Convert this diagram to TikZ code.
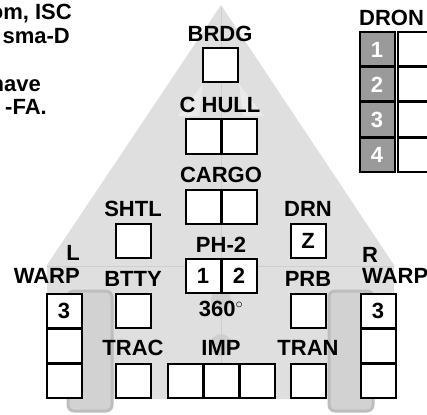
\documentclass[tikz,border=0pt]{standalone}
\usepackage{fontspec}
\setmainfont{Liberation Sans}
\newcommand\shipfont{\fontsize{22}{24}\selectfont\bfseries}
\definecolor{shipfill}{HTML}{DFDFDF}
\definecolor{shipline}{HTML}{CFCFCF}
\definecolor{shiplight}{HTML}{EBEBEB}
\definecolor{nacfill}{HTML}{D2D2D2}
\definecolor{nacline}{HTML}{BDBDBD}
\definecolor{dronegray}{HTML}{9A9A9A}
\tikzset{
  cell/.style={draw=black, line width=2pt, fill=white, minimum width=35pt, minimum height=34pt, inner sep=0pt, font=\shipfont},
  dcell/.style={cell, fill=dronegray, text=white},
  lbl/.style={font=\shipfont, inner sep=0pt, anchor=base},
  faint/.style={draw=shipline, line width=1pt},
  nacelle/.style={draw=nacline, line width=3pt, fill=nacfill, rounded corners=6pt},
}
\begin{document}
\begin{tikzpicture}[x=1pt,y=-1pt]
\useasboundingbox (0,0) rectangle (427,414);
\clip (0,0) rectangle (427,414);
% ship silhouette
\fill[shipfill] (221,5) -- (394,265) -- (394,399) -- (47,399) -- (47,265) -- cycle;
\fill[shiplight] (203,84) -- (178,116) -- (199,116) -- cycle;
\fill[shiplight] (239,84) -- (264,116) -- (243,116) -- cycle;
\draw[faint] (47,266) -- (394,266);
\draw[faint] (221,8) -- (221,399);
\fill[shipline] (221,300) circle (10pt);
\fill[shipline] (221,345) circle (11pt);
\draw[nacelle] (68,291) rectangle (112,411);
\draw[nacelle] (329,291) rectangle (373,411);
% top-left text
\node[lbl, anchor=base east] (t1) at (72,20) {om, ISC};
\node[lbl, anchor=base east] (t2) at (70,44) {sma-D};
\node[lbl, anchor=base east] (t3) at (41,92) {have};
\node[lbl, anchor=base east] (t4) at (47,114) {-FA.};
% bridge and hull
\node[lbl] (brdgL) at (220,42) {BRDG};
\node[cell] (brdg) at (220,65.5) {};
\node[lbl] (chullL) at (220,113) {C HULL};
\node[cell] (ch1) at (203,136.5) {};
\node[cell] (ch2) at (239,136.5) {};
\node[lbl] (cargoL) at (221,182) {CARGO};
\node[cell] (cg1) at (203,206.5) {};
\node[cell] (cg2) at (239,206.5) {};
\node[lbl] (phL) at (221,252) {PH-2};
\node[cell] (ph1) at (203,275.5) {1};
\node[cell] (ph2) at (239,275.5) {2};
\node[lbl] (deg) at (221,316) {360$^\circ$};
\node[lbl] (impL) at (221,355) {IMP};
\node[cell] (imp1) at (185,380.5) {};
\node[cell] (imp2) at (221,380.5) {};
\node[cell] (imp3) at (257,380.5) {};
% left column
\node[lbl] (shtlL) at (133,216) {SHTL};
\node[cell] (shtl) at (133,240.5) {};
\node[lbl] (bttyL) at (133,286) {BTTY};
\node[cell] (btty) at (133,310.5) {};
\node[lbl] (tracL) at (133,355) {TRAC};
\node[cell] (trac) at (133,380.5) {};
% right column
\node[lbl] (drnL) at (308,216) {DRN};
\node[cell] (drn) at (308,240.5) {Z};
\node[lbl] (prbL) at (308,286) {PRB};
\node[cell] (prb) at (308,310.5) {};
\node[lbl] (tranL) at (308,355) {TRAN};
\node[cell] (tran) at (308,380.5) {};
% warp
\node[lbl, anchor=base east] (lL) at (80,260) {L};
\node[lbl, anchor=base east] (lwL) at (80,283) {WARP};
\node[cell] (lw1) at (64,310.5) {3};
\node[cell] (lw2) at (64,345.5) {};
\node[cell] (lw3) at (64,380.5) {};
\node[lbl, anchor=base west] (rL) at (362,262) {R};
\node[lbl, anchor=base west] (rwL) at (362,283) {WARP};
\node[cell] (rw1) at (378,310.5) {3};
\node[cell] (rw2) at (378,345.5) {};
\node[cell] (rw3) at (378,380.5) {};
% drone table
\node[lbl, anchor=base west] (droneL) at (359,26) {DRON};
\node[dcell] (d1) at (377,49.5) {1};
\node[cell] (d1w) at (415,49.5) {};
\node[dcell] (d2) at (377,84.5) {2};
\node[cell] (d2w) at (415,84.5) {};
\node[dcell] (d3) at (377,119.5) {3};
\node[cell] (d3w) at (415,119.5) {};
\node[dcell] (d4) at (377,154.5) {4};
\node[cell] (d4w) at (415,154.5) {};
\end{tikzpicture}
\end{document}
